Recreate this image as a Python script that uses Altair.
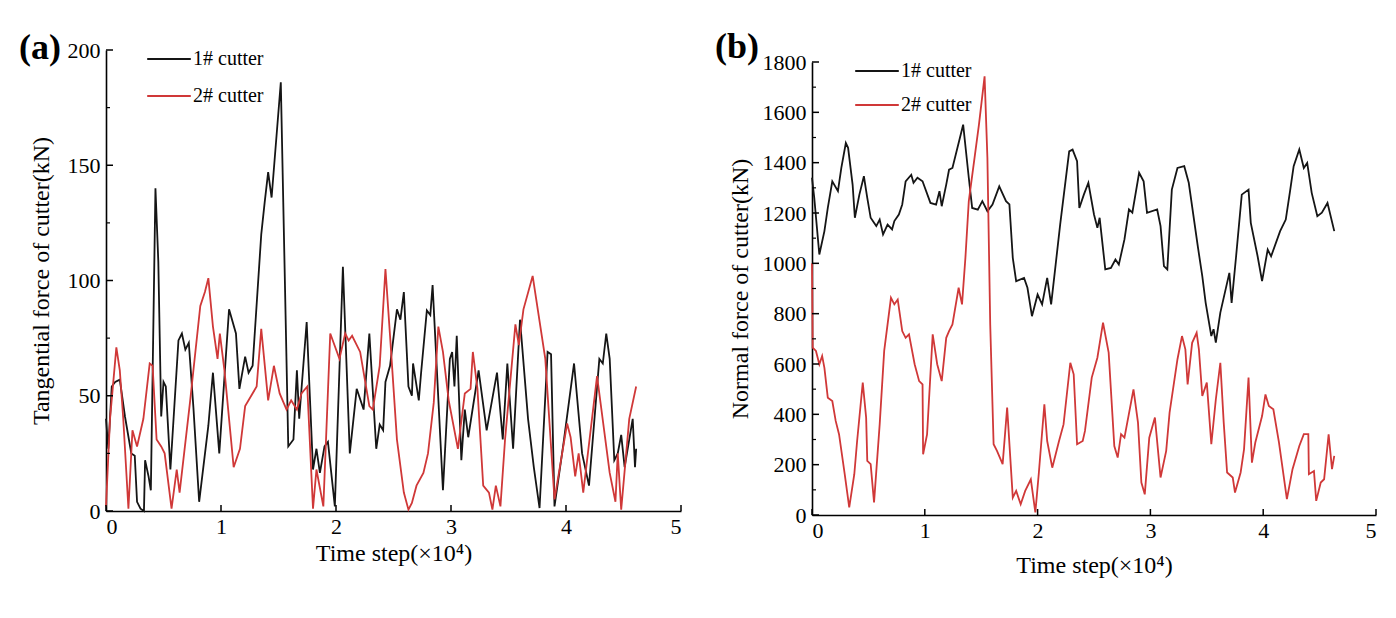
import altair as alt
import pandas as pd

# ---------------- data: (a) tangential force ----------------
tan1_t = [0, 0.02, 0.05, 0.08, 0.12, 0.165, 0.22, 0.25, 0.27, 0.30, 0.33, 0.34, 0.37, 0.39, 0.43, 0.455, 0.48,
          0.50, 0.52, 0.56, 0.63, 0.66, 0.69, 0.72, 0.76, 0.81, 0.89, 0.93, 0.985, 1.07, 1.13, 1.16, 1.21, 1.24,
          1.275, 1.35, 1.38, 1.41, 1.44, 1.52, 1.585, 1.63, 1.66, 1.68, 1.745, 1.80, 1.83, 1.86, 1.90, 1.93,
          1.99, 2.06, 2.12, 2.18, 2.24, 2.29, 2.35, 2.38, 2.41, 2.43, 2.47, 2.53, 2.56, 2.59, 2.63, 2.66, 2.67,
          2.72, 2.74, 2.79, 2.82, 2.84, 2.93, 2.99, 3.01, 3.03, 3.05, 3.09, 3.12, 3.15, 3.24, 3.31, 3.40, 3.45,
          3.49, 3.54, 3.60, 3.67, 3.72, 3.77, 3.84, 3.87, 3.90, 3.98, 4.07, 4.14, 4.20, 4.29, 4.32, 4.35, 4.38,
          4.42, 4.45, 4.48, 4.51, 4.58, 4.60, 4.61]
tan1_v = [40, 27, 54, 56, 57, 41, 25, 24, 4, 1, 0, 22, 15, 9, 140, 108, 41,
          56, 54, 18, 74, 77, 70, 73, 45, 4, 37, 60, 25, 87.5, 77, 53, 67, 60,
          63, 120, 134, 147, 136, 186, 28, 31, 61, 40, 82, 18, 27, 16.5, 28, 30,
          2, 106, 25, 53, 44, 77, 27, 37.5, 35, 56, 63, 87.5, 83, 95, 54, 50, 64,
          48, 60, 87, 85, 98, 9, 66, 69, 54, 76, 22, 44, 32, 61, 35, 60, 31,
          64, 27, 83, 40, 19, 1.3, 69, 68, 2, 30, 64, 25, 11, 66, 64, 77, 66,
          22, 25, 33, 19, 40, 19, 27]

tan2_t = [0, 0.035, 0.09, 0.12, 0.15, 0.195, 0.23, 0.27, 0.325, 0.38, 0.405, 0.44, 0.48, 0.51, 0.57, 0.615,
          0.64, 0.73, 0.82, 0.86, 0.89, 0.93, 0.97, 0.99, 1.03, 1.11, 1.165, 1.21, 1.31, 1.35, 1.41, 1.46, 1.51,
          1.57, 1.61, 1.66, 1.70, 1.75, 1.80, 1.83, 1.89, 1.95, 2.03, 2.08, 2.11, 2.14, 2.21, 2.29, 2.32, 2.38,
          2.43, 2.47, 2.53, 2.59, 2.63, 2.66, 2.70, 2.76, 2.80, 2.85, 2.89, 2.93, 2.98, 3.06, 3.12, 3.17, 3.19,
          3.23, 3.28, 3.33, 3.36, 3.39, 3.43, 3.47, 3.56, 3.59, 3.63, 3.71, 3.82, 3.90, 4.01, 4.04, 4.08, 4.11,
          4.15, 4.27, 4.38, 4.43, 4.45, 4.48, 4.55, 4.61]
tan2_v = [2, 40, 71, 61, 40, 1, 35, 28, 40, 64, 63, 31, 28, 25, 1, 18,
          8, 47, 89, 95, 101, 80, 66, 77, 61, 19, 27, 45.5, 54, 79, 48, 63, 51,
          44, 48, 44, 51, 54, 1, 18, 2, 77, 66, 77, 74, 76, 69, 45.5, 44, 63,
          105, 76, 31, 8, 0.6, 3.5, 11, 16.5, 25, 47, 80, 69, 48, 27, 51, 53, 69,
          53, 11, 8, 0.6, 11, 2, 31, 81, 72, 87.5, 102, 66, 5, 38, 32, 15, 25,
          8, 58.5, 16.5, 4, 25, 0.6, 40, 54]

# ---------------- data: (b) normal force ----------------
nor1_t = [0, 0.02, 0.065, 0.11, 0.14, 0.18, 0.23, 0.26, 0.30, 0.32, 0.36, 0.38, 0.42, 0.46, 0.49, 0.52, 0.55,
          0.57, 0.60, 0.63, 0.67, 0.71, 0.73, 0.77, 0.80, 0.83, 0.88, 0.90, 0.935, 0.98, 1.05, 1.10, 1.13, 1.15,
          1.19, 1.215, 1.245, 1.34, 1.39, 1.42, 1.47, 1.51, 1.555, 1.60, 1.66, 1.72, 1.75, 1.78, 1.81, 1.88,
          1.91, 1.95, 2.00, 2.04, 2.085, 2.12, 2.16, 2.20, 2.28, 2.31, 2.35, 2.37, 2.41, 2.45, 2.50, 2.53, 2.55,
          2.60, 2.65, 2.69, 2.72, 2.77, 2.81, 2.84, 2.90, 2.94, 2.97, 3.06, 3.09, 3.12, 3.15, 3.19, 3.24, 3.30,
          3.34, 3.42, 3.46, 3.49, 3.54, 3.56, 3.58, 3.62, 3.70, 3.72, 3.76, 3.81, 3.87, 3.89, 3.95, 3.99, 4.04,
          4.07, 4.15, 4.20, 4.24, 4.27, 4.32, 4.36, 4.39, 4.43, 4.48, 4.52, 4.57, 4.63]
nor1_v = [1340, 1260, 1035, 1128, 1220, 1326, 1287, 1379, 1478, 1459, 1313, 1181, 1273, 1346, 1260, 1181, 1161,
          1148, 1174, 1115, 1154, 1135, 1168, 1194, 1234, 1326, 1352, 1320, 1340, 1326, 1240, 1233, 1287, 1227,
          1313, 1372, 1379, 1551, 1340, 1220, 1213, 1247, 1207, 1234, 1306, 1247, 1234, 1022, 929, 942,
          903, 790, 876, 837, 942, 837, 995, 1154, 1445, 1452, 1406, 1220, 1273, 1320, 1194, 1141, 1181,
          976, 982, 1015, 995, 1095, 1214, 1201, 1360, 1326, 1201, 1214, 1148, 989, 976, 1293, 1379, 1386,
          1320, 1068, 949, 843, 711, 738, 685, 804, 962, 843, 1029, 1273, 1293, 1161, 1029, 929, 1055,
          1028, 1128, 1174, 1293, 1386, 1452, 1379, 1399, 1280, 1187, 1201, 1240, 1128]

nor2_t = [0, 0.006, 0.035, 0.065, 0.09, 0.11, 0.14, 0.18, 0.21, 0.24, 0.29, 0.33, 0.375, 0.40, 0.45, 0.48,
          0.49, 0.52, 0.55, 0.60, 0.64, 0.70, 0.73, 0.76, 0.80, 0.83, 0.86, 0.91, 0.95, 0.98, 0.985, 1.02, 1.07,
          1.11, 1.15, 1.19, 1.215, 1.245, 1.30, 1.33, 1.36, 1.39, 1.48, 1.53, 1.555, 1.58, 1.61, 1.64, 1.69,
          1.73, 1.78, 1.81, 1.85, 1.89, 1.94, 1.98, 2.01, 2.06, 2.085, 2.13, 2.19, 2.23, 2.29, 2.32, 2.35, 2.40,
          2.42, 2.48, 2.53, 2.58, 2.63, 2.68, 2.71, 2.74, 2.77, 2.85, 2.89, 2.92, 2.95, 2.99, 3.04, 3.09, 3.14,
          3.17, 3.24, 3.28, 3.31, 3.33, 3.37, 3.41, 3.43, 3.46, 3.50, 3.54, 3.58, 3.62, 3.65, 3.68, 3.73, 3.75,
          3.80, 3.83, 3.87, 3.90, 3.93, 3.99, 4.02, 4.05, 4.09, 4.14, 4.21, 4.26, 4.32, 4.36, 4.40, 4.405, 4.45,
          4.47, 4.51, 4.54, 4.58, 4.61, 4.63]
nor2_v = [1000, 665, 652, 599, 632, 585, 466, 453, 374, 320, 162, 30, 162, 294, 526, 387,
          215, 202, 50, 360, 652, 863, 837, 856, 731, 704, 718, 599, 532, 519, 241, 320, 718,
          599, 532, 704, 731, 757, 903, 837, 1022, 1247, 1551, 1743, 1419, 757, 281, 255, 202,
          427, 69, 96, 43, 96, 142, 10, 162, 440, 294, 188, 294, 360, 605, 559, 281, 294,
          334, 546, 625, 764, 645, 274, 228, 321, 307, 499, 367, 129, 82, 307, 387, 149, 255,
          407, 619, 711, 658, 519, 684, 724, 658, 473, 526, 281, 459, 605, 367, 169, 149, 89,
          169, 261, 546, 208, 288, 393, 479, 433, 420, 288, 63, 182, 274, 321, 321, 162, 175,
          56, 129, 142, 321, 182, 235]

series_names = ["1# cutter", "2# cutter"]
series_colors = ["#151515", "#d03838"]

x_ticks = [0, 1, 2, 3, 4, 5]
tan_ticks = [0, 50, 100, 150, 200]
tan_minor = [25, 75, 125, 175]
nor_ticks = [0, 200, 400, 600, 800, 1000, 1200, 1400, 1600, 1800]
nor_minor = [100, 300, 500, 700, 900, 1100, 1300, 1500, 1700]

FONT = "Liberation Serif"


def panel(t1, v1, t2, v2, ydom, yticks, yminor, ytitle, tag, w, h, top, tag_x, tag_y,
          leg_x, leg_y, leg_row, title_pad, xtitle_pad):
    df = pd.concat([
        pd.DataFrame({"t": t1, "v": v1, "series": series_names[0]}),
        pd.DataFrame({"t": t2, "v": v2, "series": series_names[1]}),
    ])
    xenc = alt.X("t:Q", scale=alt.Scale(domain=[0, 5], nice=False),
                 axis=alt.Axis(values=x_ticks, title="Time step(×10⁴)", format="d",
                               titlePadding=xtitle_pad))
    yenc = alt.Y("v:Q", scale=alt.Scale(domain=ydom, nice=False, range=[h, top]),
                 axis=alt.Axis(values=yticks, title=ytitle, format="d", titlePadding=title_pad))
    lines = alt.Chart(df).mark_line(strokeWidth=1.8).encode(
        x=xenc, y=yenc,
        color=alt.Color("series:N",
                        scale=alt.Scale(domain=series_names, range=series_colors),
                        legend=alt.Legend(title=None, orient="none", legendX=leg_x, legendY=leg_y,
                                          symbolType="stroke", symbolSize=1900, symbolStrokeWidth=1.8,
                                          clipHeight=20, rowPadding=leg_row, padding=0,
                                          labelFont=FONT, labelFontSize=20, labelColor="black",
                                          labelOffset=1)),
    )
    xt = alt.Chart(pd.DataFrame({"t": x_ticks})).mark_rule(color="black", strokeWidth=1.5).encode(
        x=xenc, y=alt.value(h), y2=alt.value(h - 6))
    yt = alt.Chart(pd.DataFrame({"v": yticks})).mark_rule(color="black", strokeWidth=1.5).encode(
        y=yenc, x=alt.value(0), x2=alt.value(7))
    ym = alt.Chart(pd.DataFrame({"v": yminor})).mark_rule(color="black", strokeWidth=1.2).encode(
        y=yenc, x=alt.value(0), x2=alt.value(4))
    lab = alt.Chart(pd.DataFrame({"tag": [tag]})).mark_text(
        font=FONT, fontSize=36, fontWeight="bold", color="black", align="center", baseline="middle"
    ).encode(text="tag:N", x=alt.value(tag_x), y=alt.value(tag_y))
    return alt.layer(lines, xt, yt, ym, lab).properties(width=w, height=h)


left = panel(tan1_t, tan1_v, tan2_t, tan2_v, [0, 200], tan_ticks, tan_minor,
             "Tangential force of cutter(kN)", "(a)", 575, 461, 0, -66, -2, 40, -1, 17, 14, 4)
right = panel(nor1_t, nor1_v, nor2_t, nor2_v, [0, 1800], nor_ticks, nor_minor,
              "Normal force of cutter(kN)", "(b)", 564, 465, 12, -75, -3, 42, 11, 14, 10, 12)

chart = alt.hconcat(left, right, spacing=33).resolve_scale(color="independent").resolve_legend(
    color="independent"
).properties(
    padding={"left": 11, "top": 21, "right": 5, "bottom": 5},
    background="white",
).configure_view(stroke=None).configure_axis(
    domainColor="black", domainWidth=1.6, ticks=False, grid=False,
    labelFont=FONT, labelFontSize=22, labelColor="black",
    titleFont=FONT, titleFontSize=24, titleFontWeight="normal", titleColor="black",
).configure_axisX(labelPadding=5).configure_axisY(labelPadding=6)

chart.save("out.html", embed_options={"renderer": "svg", "actions": False})
